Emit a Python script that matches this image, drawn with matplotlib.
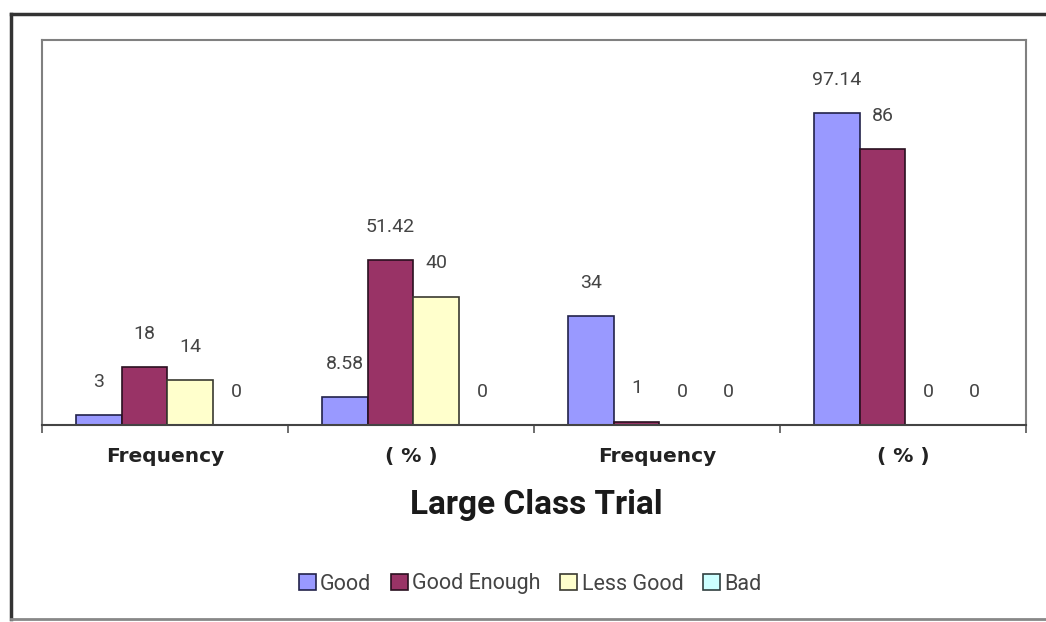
import numpy as np
import matplotlib.pyplot as plt
from matplotlib.lines import Line2D

categories = ["Frequency", "( % )", "Frequency", "( % )"]
series_names = ["Good", "Good Enough", "Less Good", "Bad"]
good = [3, 8.58, 34, 97.14]
good_enough = [18, 51.42, 1, 86]
less_good = [14, 40, 0, 0]
bad = [0, 0, 0, 0]

colors = ["#9999ff", "#993366", "#ffffcc", "#ccffff"]
edges = ["#22224a", "#2a1020", "#3a3a30", "#304040"]

fig = plt.figure(figsize=(10.46, 6.22), dpi=100)
ax = fig.add_axes([42 / 1046, 1 - 425 / 622, (1026 - 42) / 1046, (425 - 40) / 622])

x = np.arange(len(categories))
w = 0.186
for i, (vals, name) in enumerate(zip([good, good_enough, less_good, bad], series_names)):
    pos = x + (i - 1.5) * w + 0.01
    ax.bar(pos, vals, width=w, color=colors[i], edgecolor=edges[i],
           linewidth=1.2, label=name, zorder=2)
    for px, v in zip(pos, vals):
        ax.annotate(f"{v:g}", (px, v), xytext=(0, 24), textcoords="offset points",
                    ha="center", va="center", fontsize=14, color="#444444",
                    family="Roboto")

ax.set_xlim(-0.5, 3.5)
ax.set_ylim(0, 120)
ax.set_yticks([])

# category names sit under each group, tick marks mark the group boundaries
ax.set_xticks(x)
ax.set_xticklabels(categories, fontsize=14.5, fontweight="bold", color="#222222")
ax.tick_params(axis="x", which="major", length=0, pad=16)
ax.set_xticks(np.arange(-0.5, 4, 1), minor=True)
ax.tick_params(axis="x", which="minor", length=6, width=1.2, color="#555555")

for side in ["left", "top", "right"]:
    ax.spines[side].set_color("#808080")
    ax.spines[side].set_linewidth(1.5)
ax.spines["bottom"].set_color("#444444")
ax.spines["bottom"].set_linewidth(1.5)

fig.text(536 / 1046, 1 - 505 / 622, "Large Class Trial", ha="center", va="center",
         fontsize=24, fontweight="bold", family="Roboto", color="#1a1a1a")

fig.legend(loc="center", bbox_to_anchor=(530 / 1046, 1 - 584 / 622), ncol=4,
           frameon=False, handlelength=0.8, handleheight=0.8, handletextpad=0.2,
           columnspacing=0.9, prop={"family": "Roboto", "size": 15.5},
           labelcolor="#444444")

# outer chart border
lx, ty, by = 11 / 1046, 1 - 14 / 622, 1 - 619 / 622
fig.add_artist(Line2D([lx, lx], [by, ty], transform=fig.transFigure, color="#333333", lw=2.5))
fig.add_artist(Line2D([lx, 1.0], [ty, ty], transform=fig.transFigure, color="#333333", lw=2.5))
fig.add_artist(Line2D([lx, 1.0], [by, by], transform=fig.transFigure, color="#888888", lw=2))

fig.savefig("out.png", dpi=100)
